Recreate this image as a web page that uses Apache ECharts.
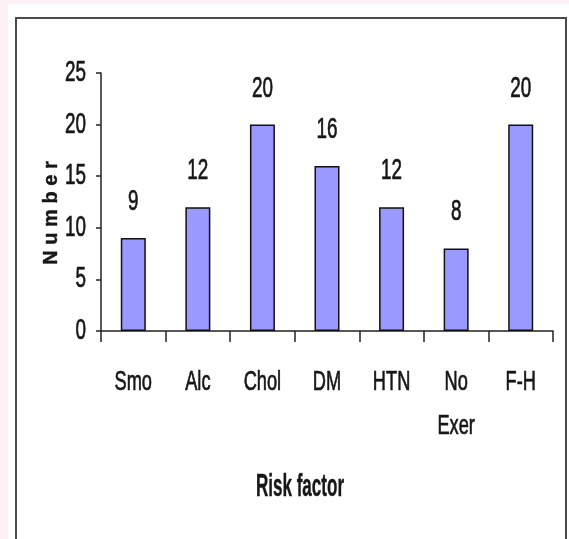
<!DOCTYPE html>
<html>
<head>
<meta charset="utf-8">
<script src="https://cdn.jsdelivr.net/npm/echarts@6/dist/echarts.min.js"></script>
<style>
  html, body { margin: 0; padding: 0; background: #ffffff; }
  #chart { width: 569px; height: 539px; }
</style>
</head>
<body>
<div id="chart"></div>
<script>
// Risk factor counts
const categories = ['Smo', 'Alc', 'Chol', 'DM', 'HTN', 'No\nExer', 'F-H'];
const counts = [9, 12, 20, 16, 12, 8, 20];
const yTickValues = [0, 5, 10, 15, 20, 25];
const xTitle = 'Risk factor';
const yTitle = 'N u m b e r';

const FONT = '"Liberation Sans", Arial, sans-serif';
const TEXT_COLOR = '#161616';
const NARROW = 0.65;     // horizontal squeeze for the condensed lettering

const chart = echarts.init(document.getElementById('chart'), null, { renderer: 'canvas' });

const frame = [
  { id: 'stripTop', type: 'rect', left: 0, top: 0, shape: { width: 569, height: 4 }, style: { fill: '#fdf0f6' }, z: -10 },
  { id: 'stripLeft', type: 'rect', left: 0, top: 0, shape: { width: 8, height: 539 }, style: { fill: '#fdf0f6' }, z: -10 },
  { id: 'panel', type: 'rect', left: 15, top: 17, shape: { width: 550, height: 540 }, style: { fill: '#ffffff', stroke: '#4a4a4a', lineWidth: 2 }, z: -5 }
];

chart.setOption({
  backgroundColor: '#ffffff',
  animation: false,
  graphic: frame,
  grid: { left: 101, right: 16, top: 73, bottom: 208, containLabel: false },
  xAxis: {
    type: 'category',
    data: categories,
    axisLine: { show: true, lineStyle: { color: '#222222', width: 1.5 } },
    axisTick: { show: true, inside: false, length: 11, alignWithLabel: false, lineStyle: { color: '#222222', width: 1.5 } },
    axisLabel: { show: false },
    splitLine: { show: false }
  },
  yAxis: {
    type: 'value',
    min: yTickValues[0], max: yTickValues[yTickValues.length - 1], interval: yTickValues[1] - yTickValues[0],
    axisLine: { show: true, lineStyle: { color: '#222222', width: 1.5 } },
    axisTick: { show: true, inside: false, length: 5, lineStyle: { color: '#222222', width: 1.5 } },
    axisLabel: { show: false },
    splitLine: { show: false }
  },
  series: [{
    type: 'bar',
    data: counts,
    barWidth: 25,
    itemStyle: { color: '#9999ff', borderColor: '#111111', borderWidth: 1.5 },
    label: { show: false }
  }]
});

// Condensed text placed through the chart's own axis scales
function narrowText(id, x, y, text, size, opts) {
  opts = opts || {};
  return {
    id: id, type: 'text', x: x, y: y,
    scaleX: opts.scaleX || NARROW, scaleY: 1,
    rotation: opts.rotation || 0,
    style: {
      text: text,
      font: (opts.bold ? 'bold ' : '') + size + 'px ' + FONT,
      fill: TEXT_COLOR,
      stroke: TEXT_COLOR,
      lineWidth: opts.weight == null ? 0.7 : opts.weight,
      align: opts.align || 'center',
      verticalAlign: 'middle'
    },
    z: 10
  };
}

const toPx = (pt) => chart.convertToPixel({ xAxisIndex: 0, yAxisIndex: 0 }, pt);
const texts = [];

// value labels above each bar
counts.forEach((v, i) => {
  const p = toPx([i, v]);
  texts.push(narrowText('val' + i, p[0], p[1] - 36, String(v), 29));
});

// category labels, one text per line
categories.forEach((c, i) => {
  const p = toPx([i, 0]);
  c.split('\n').forEach((line, k) => {
    texts.push(narrowText('cat' + i + '_' + k, p[0], p[1] + 51 + k * 44, line, 28));
  });
});

// value axis tick labels
yTickValues.forEach((t, i) => {
  const p = toPx([0, t]);
  texts.push(narrowText('tick' + i, 86, p[1], String(t), 29, { align: 'right' }));
});

// axis titles
texts.push(narrowText('xTitle', 300, 487, xTitle, 31, { bold: true, scaleX: 0.55, weight: 0.4 }));
texts.push(narrowText('yTitle', 51, 213, yTitle, 20, { bold: true, scaleX: 1, rotation: Math.PI / 2, weight: 0.4 }));

chart.setOption({ graphic: frame.concat(texts) });
</script>
</body>
</html>
